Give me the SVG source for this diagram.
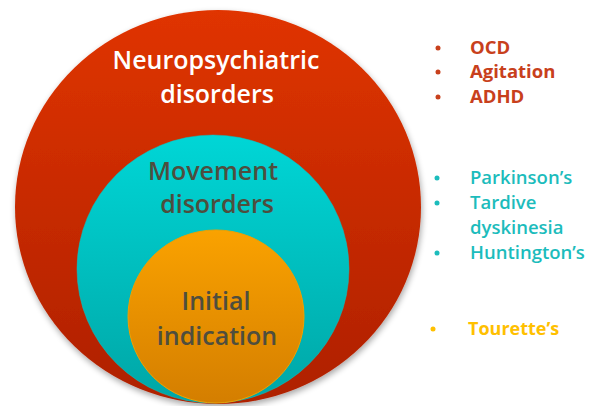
<svg xmlns="http://www.w3.org/2000/svg" width="590" height="406" viewBox="0 0 590 406">
<defs>
<linearGradient id="gRed" x1="0" y1="0" x2="0" y2="1">
<stop offset="0" stop-color="#e03400"/>
<stop offset="1" stop-color="#ae2000"/>
</linearGradient>
<linearGradient id="gCyan" x1="0" y1="0" x2="0" y2="1">
<stop offset="0" stop-color="#00d6d6"/>
<stop offset="1" stop-color="#00a6a6"/>
</linearGradient>
<linearGradient id="gOrange" x1="0" y1="0" x2="0" y2="1">
<stop offset="0" stop-color="#faa200"/>
<stop offset="1" stop-color="#d47e00"/>
</linearGradient>
<filter id="shadow" x="-10%" y="-10%" width="125%" height="125%">
<feGaussianBlur in="SourceAlpha" stdDeviation="3"/>
<feOffset dx="1" dy="3"/>
<feComponentTransfer><feFuncA type="linear" slope="0.35"/></feComponentTransfer>
<feMerge><feMergeNode/><feMergeNode in="SourceGraphic"/></feMerge>
</filter>
</defs>
<style>
.lbl{font-family:"Open Sans","Liberation Sans",sans-serif;font-size:25px;font-weight:600;text-anchor:middle}
.lst{font-family:"Open Sans","Liberation Sans",sans-serif;font-size:18.5px;font-weight:600}
.b{font-weight:bold}
.red{fill:#c8401c}
.cy{fill:#1cbcbc}
.or{fill:#ffc000;font-size:18px}
</style>
<g id="neuropsychiatric">
<ellipse cx="218" cy="207" rx="203" ry="197" fill="url(#gRed)" filter="url(#shadow)"/>
<text class="lbl" x="216" y="69" fill="#ffffff">Neuropsychiatric</text>
<text class="lbl" x="217" y="103" fill="#ffffff">disorders</text>
</g>
<g id="movement">
<ellipse cx="213" cy="269" rx="136" ry="134" fill="url(#gCyan)" stroke="#10c0c0" stroke-width="0.5"/>
<text class="lbl" x="213" y="180" fill="#4e4e3e">Movement</text>
<text class="lbl" x="217" y="213" fill="#4e4e3e">disorders</text>
</g>
<g id="initial">
<ellipse cx="216" cy="316.5" rx="88" ry="86.5" fill="url(#gOrange)" stroke="#f0a000" stroke-width="1"/>
<text class="lbl" x="216" y="310" fill="#4e4e3e">Initial</text>
<text class="lbl" x="217" y="345" fill="#4e4e3e">indication</text>
</g>
<g id="list-neuro" class="lst b red">
<circle cx="438" cy="48" r="2.5"/>
<circle cx="438" cy="72" r="2.5"/>
<circle cx="438" cy="97" r="2.5"/>
<text x="470" y="54">OCD</text>
<text x="470" y="78">Agitation</text>
<text x="470" y="103">ADHD</text>
</g>
<g id="list-movement" class="lst cy">
<circle cx="437" cy="178" r="2.5"/>
<circle cx="437" cy="203" r="2.5"/>
<circle cx="437" cy="253" r="2.5"/>
<text x="470" y="184">Parkinson’s</text>
<text x="470" y="209">Tardive</text>
<text x="470" y="234">dyskinesia</text>
<text x="470" y="259">Huntington’s</text>
</g>
<g id="list-initial" class="lst b or">
<circle cx="433" cy="329" r="2.5"/>
<text x="468" y="335">Tourette’s</text>
</g>
<g id="connectors"/>
</svg>
